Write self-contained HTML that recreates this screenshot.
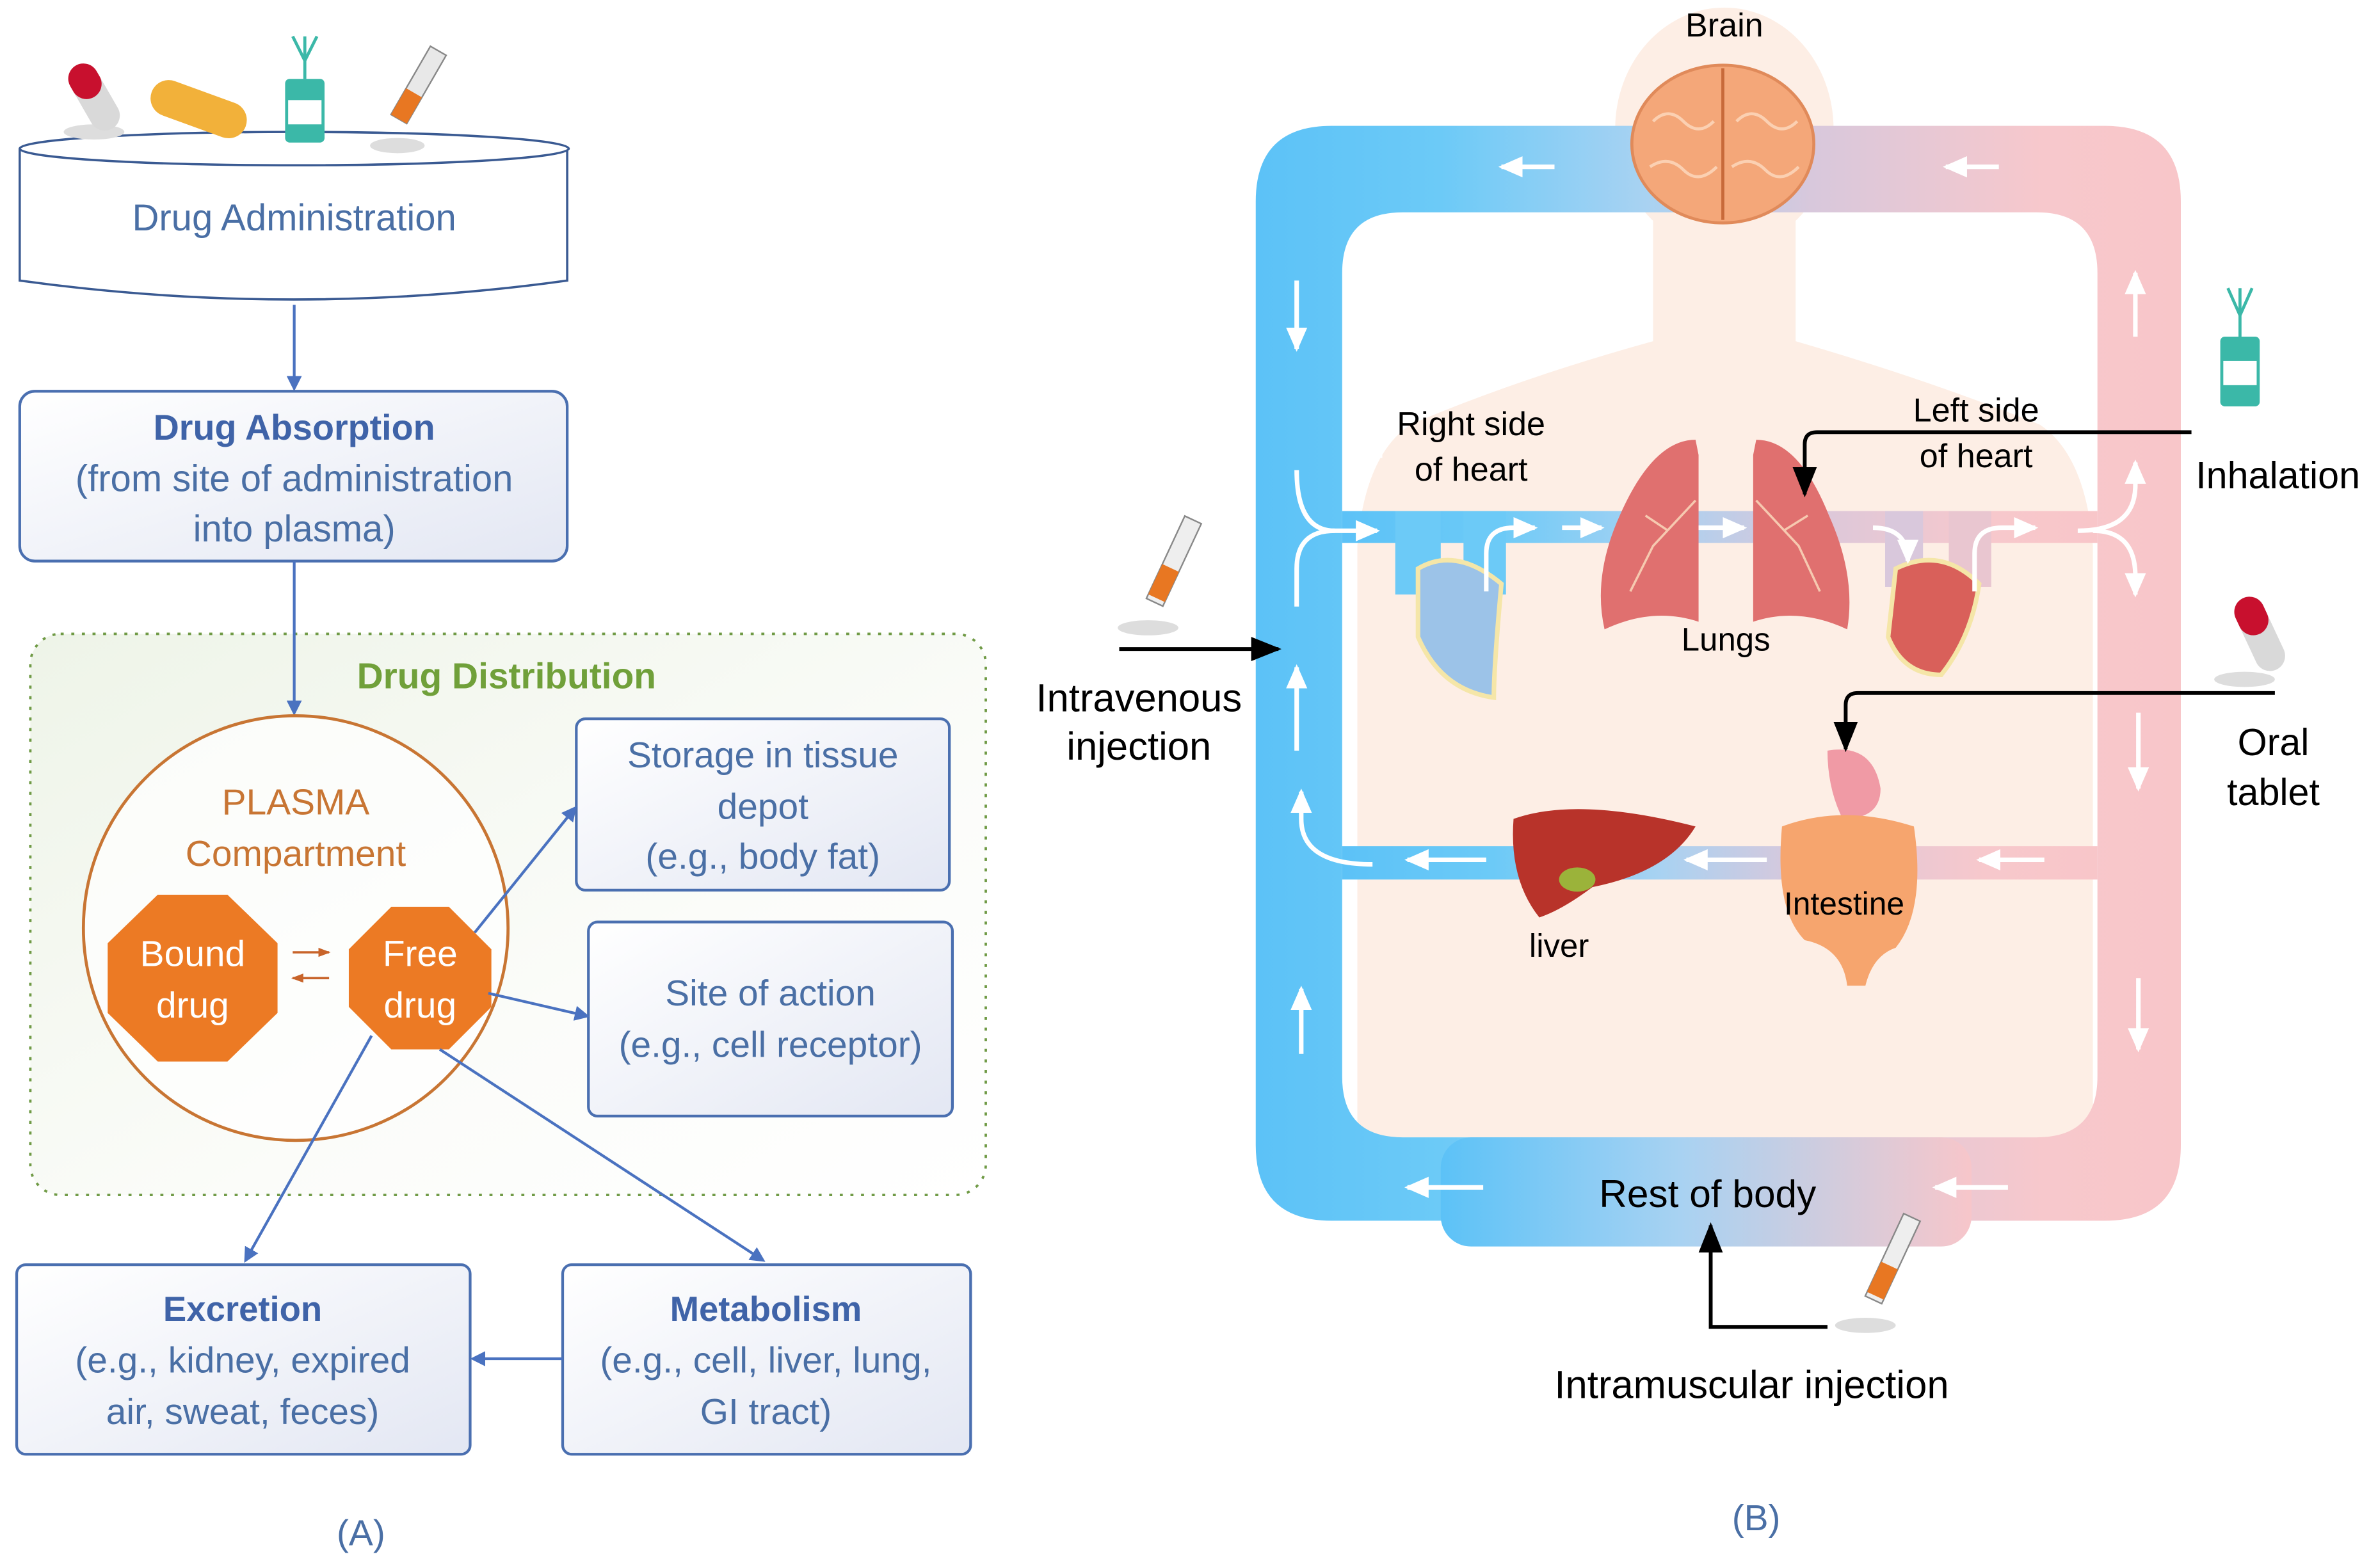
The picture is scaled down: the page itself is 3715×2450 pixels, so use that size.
<!DOCTYPE html>
<html><head><meta charset="utf-8"><style>html,body{margin:0;padding:0;background:#fff}svg{display:block}</style></head>
<body>
<svg width="3715" height="2450" viewBox="0 0 1568 1034" preserveAspectRatio="none" xmlns="http://www.w3.org/2000/svg" font-family="Liberation Sans, sans-serif">
<defs>
<linearGradient id="box" x1="0" y1="0" x2="1" y2="1"><stop offset="0" stop-color="#ffffff"/><stop offset="1" stop-color="#e3e7f3"/></linearGradient>
<linearGradient id="green" x1="0" y1="0" x2="1" y2="1"><stop offset="0" stop-color="#eef4e8"/><stop offset="0.6" stop-color="#fbfcf9"/><stop offset="1" stop-color="#ffffff"/></linearGradient>
<linearGradient id="bp" x1="0" y1="0" x2="1" y2="0"><stop offset="0" stop-color="#5cc2f7"/><stop offset="0.2" stop-color="#6ccaf7"/><stop offset="0.42" stop-color="#a8d2f2"/><stop offset="0.6" stop-color="#d8c8dc"/><stop offset="0.85" stop-color="#f7c8cc"/><stop offset="1" stop-color="#f8c6c9"/></linearGradient>
<linearGradient id="bp2" x1="0" y1="0" x2="1" y2="0"><stop offset="0" stop-color="#5cc2f7"/><stop offset="0.45" stop-color="#a8d2f2"/><stop offset="1" stop-color="#f7c6ca"/></linearGradient>
<marker id="ab" markerWidth="10" markerHeight="10" refX="8" refY="5" orient="auto" markerUnits="userSpaceOnUse"><path d="M0,0 L10,5 L0,10 z" fill="#4a72c0"/></marker>
<marker id="ak" markerWidth="20" markerHeight="16" refX="18" refY="8" orient="auto" markerUnits="userSpaceOnUse"><path d="M0,0 L20,8 L0,16 z" fill="#000"/></marker>
<marker id="ao" markerWidth="8" markerHeight="8" refX="7" refY="4" orient="auto" markerUnits="userSpaceOnUse"><path d="M0,1 L8,4 L0,7 z" fill="#c8642a"/></marker>
<marker id="aw" markerWidth="16" markerHeight="16" refX="14" refY="8" orient="auto" markerUnits="userSpaceOnUse"><path d="M0,1 L16,8 L0,15 z" fill="#fff"/></marker>
</defs>

<!-- LEFT PANEL -->
<g fill="none" stroke="#3a5a92" stroke-width="1.5">
<path d="M13,98 L13,185 Q194,210 374,185 L374,98" fill="#fff"/>
<ellipse cx="194" cy="98" rx="181" ry="11" fill="#fff"/>
</g>
<ellipse cx="62" cy="87" rx="20" ry="5" fill="#ddd"/>
<rect x="52" y="40" width="20" height="48" rx="10" fill="#d9d9d9" transform="rotate(-30 62 64)"/>
<rect x="52" y="40" width="20" height="24" rx="10" fill="#c8102e" transform="rotate(-30 62 64)"/>
<rect x="98" y="60" width="66" height="24" rx="12" fill="#f2b13a" transform="rotate(20 131 72)"/>
<rect x="188" y="52" width="26" height="42" rx="3" fill="#3bb8a8"/><rect x="190" y="66" width="22" height="16" fill="#fff"/>
<path d="M201,52 L201,24 M201,40 L193,24 M201,40 L209,24" stroke="#3bb8a8" stroke-width="2"/>
<ellipse cx="262" cy="96" rx="18" ry="5" fill="#ddd"/>
<rect x="270" y="30" width="12" height="52" fill="#e8e8e8" stroke="#888" transform="rotate(30 276 56)"/>
<rect x="270" y="62" width="12" height="20" fill="#e87722" transform="rotate(30 276 56)"/>
<text x="194" y="152" font-size="24.5" fill="#4a6fa5" text-anchor="middle">Drug Administration</text>
<line x1="194" y1="201" x2="194" y2="256" stroke="#4a72c0" stroke-width="1.8" marker-end="url(#ab)"/>

<rect x="13" y="258" width="361" height="112" rx="10" fill="url(#box)" stroke="#4a6fb0" stroke-width="1.8"/>
<g font-size="24.5" fill="#4a6fa5" text-anchor="middle">
<text x="194" y="290" font-weight="bold" fill="#3f63a8" font-size="23.5">Drug Absorption</text>
<text x="194" y="324">(from site of administration</text>
<text x="194" y="357">into plasma)</text>
</g>

<rect x="20" y="418" width="630" height="370" rx="20" fill="url(#green)" stroke="#6f9a45" stroke-width="1.6" stroke-dasharray="2,5"/>
<text x="334" y="454" font-size="24" font-weight="bold" fill="#70a03a" text-anchor="middle">Drug Distribution</text>
<line x1="194" y1="370" x2="194" y2="470" stroke="#4a72c0" stroke-width="1.8" marker-end="url(#ab)"/>

<circle cx="195" cy="612" r="140" fill="#fff" fill-opacity="0.7" stroke="#c87533" stroke-width="2"/>
<text x="195" y="537" font-size="24" fill="#c87533" text-anchor="middle">PLASMA</text>
<text x="195" y="571" font-size="24" fill="#c87533" text-anchor="middle">Compartment</text>
<polygon points="104,590 150,590 183,622 183,668 150,700 104,700 71,668 71,622" fill="#ec7a24"/>
<polygon points="258,598 296,598 324,626 324,664 296,692 258,692 230,664 230,626" fill="#ec7a24"/>
<g font-size="24" fill="#fff" text-anchor="middle">
<text x="127" y="637">Bound</text><text x="127" y="671">drug</text>
<text x="277" y="637">Free</text><text x="277" y="671">drug</text>
</g>
<line x1="193" y1="628" x2="217" y2="628" stroke="#c8642a" stroke-width="1.5" marker-end="url(#ao)"/>
<line x1="217" y1="645" x2="193" y2="645" stroke="#c8642a" stroke-width="1.5" marker-end="url(#ao)"/>

<rect x="380" y="474" width="246" height="113" rx="6" fill="url(#box)" stroke="#4a6fb0" stroke-width="1.8"/>
<rect x="388" y="608" width="240" height="128" rx="6" fill="url(#box)" stroke="#4a6fb0" stroke-width="1.8"/>
<rect x="11" y="834" width="299" height="125" rx="6" fill="url(#box)" stroke="#4a6fb0" stroke-width="1.8"/>
<rect x="371" y="834" width="269" height="125" rx="6" fill="url(#box)" stroke="#4a6fb0" stroke-width="1.8"/>
<g font-size="24" fill="#4a6fa5" text-anchor="middle">
<text x="503" y="506">Storage in tissue</text><text x="503" y="540">depot</text><text x="503" y="573">(e.g., body fat)</text>
<text x="508" y="663">Site of action</text><text x="508" y="697">(e.g., cell receptor)</text>
<text x="160" y="871" font-weight="bold" fill="#3f63a8" font-size="23">Excretion</text><text x="160" y="905">(e.g., kidney, expired</text><text x="160" y="939">air, sweat, feces)</text>
<text x="505" y="871" font-weight="bold" fill="#3f63a8" font-size="23">Metabolism</text><text x="505" y="905">(e.g., cell, liver, lung,</text><text x="505" y="939">GI tract)</text>
<text x="238" y="1019">(A)</text>
<text x="1158" y="1009">(B)</text>
</g>
<g stroke="#4a72c0" stroke-width="1.8">
<line x1="313" y1="615" x2="379" y2="533" marker-end="url(#ab)"/>
<line x1="322" y1="655" x2="387" y2="670" marker-end="url(#ab)"/>
<line x1="245" y1="683" x2="162" y2="831" marker-end="url(#ab)"/>
<line x1="290" y1="692" x2="503" y2="831" marker-end="url(#ab)"/>
<line x1="371" y1="896" x2="312" y2="896" marker-end="url(#ab)"/>
</g>

<!-- RIGHT PANEL -->
<g fill="#fdeee5">
<ellipse cx="1137" cy="85" rx="72" ry="80"/>
<rect x="1090" y="120" width="94" height="120"/>
<path d="M1090,225 Q1000,250 930,280 Q900,300 895,360 L895,750 L1380,750 L1380,360 Q1375,300 1345,280 Q1270,250 1184,225 Z"/>
</g>
<path fill-rule="evenodd" fill="url(#bp)" d="M878,83 L1388,83 Q1438,83 1438,133 L1438,755 Q1438,805 1388,805 L878,805 Q828,805 828,755 L828,133 Q828,83 878,83 Z M925,140 Q885,140 885,180 L885,710 Q885,750 925,750 L1343,750 Q1383,750 1383,710 L1383,180 Q1383,140 1343,140 Z"/>
<rect x="950" y="750" width="350" height="72" rx="20" fill="url(#bp2)"/>
<rect x="885" y="337" width="498" height="21" fill="url(#bp)"/>
<rect x="885" y="558" width="498" height="22" fill="url(#bp)"/>
<rect x="920" y="337" width="30" height="55" fill="#6ccaf7"/><rect x="965" y="337" width="28" height="55" fill="#6ccaf7"/>
<rect x="1243" y="337" width="25" height="50" fill="#d9c8dc"/><rect x="1285" y="337" width="28" height="50" fill="#e9c6d0"/>
<ellipse cx="1136" cy="95" rx="60" ry="52" fill="#f4a779" stroke="#e08a5a" stroke-width="2"/>
<line x1="1136" y1="45" x2="1136" y2="145" stroke="#c86a3a" stroke-width="2"/>
<g fill="none" stroke="#fbd0b2" stroke-width="2"><path d="M1090,80 q10,-10 20,0 t20,0"/><path d="M1145,80 q10,-10 20,0 t20,0"/><path d="M1088,110 q12,-8 22,2 t22,-2"/><path d="M1142,110 q12,-8 22,2 t22,-2"/></g>
<path d="M1118,290 Q1090,290 1068,340 Q1050,380 1058,415 Q1090,400 1120,410 L1120,300 Z" fill="#e0706f"/>
<path d="M1158,290 Q1186,290 1206,340 Q1224,380 1218,415 Q1186,400 1156,410 L1156,300 Z" fill="#e0706f"/>
<g stroke="#f6c9b0" stroke-width="1.5" fill="none"><path d="M1118,330 L1090,360 L1075,390 M1100,350 L1085,340"/><path d="M1158,330 L1186,360 L1200,390 M1176,350 L1192,340"/></g>
<path d="M935,375 Q960,360 990,385 Q985,440 985,460 Q950,455 935,420 Z" fill="#9cc3e8" stroke="#f5e6a8" stroke-width="3"/>
<path d="M1250,375 Q1280,360 1305,385 Q1300,420 1280,445 Q1255,445 1245,420 Z" fill="#d9605a" stroke="#f5e6a8" stroke-width="3"/>
<path d="M998,540 Q1040,525 1118,545 Q1100,575 1050,585 Q1030,600 1015,605 Q995,580 998,540 Z" fill="#b8332a"/>
<ellipse cx="1040" cy="580" rx="12" ry="8" fill="#9bb33a"/>
<path d="M1205,495 Q1235,490 1240,520 Q1240,540 1215,540 Q1205,520 1205,495 Z" fill="#f09aa5"/>
<path d="M1175,545 Q1215,530 1262,545 Q1270,600 1250,625 Q1235,630 1230,650 L1218,650 Q1215,625 1190,620 Q1170,600 1175,545 Z" fill="#f6a56e"/>
<g stroke="#fff" stroke-width="3" fill="none">
<line x1="1025" y1="110" x2="990" y2="110" marker-end="url(#aw)"/>
<line x1="1318" y1="110" x2="1283" y2="110" marker-end="url(#aw)"/>
<line x1="855" y1="185" x2="855" y2="230" marker-end="url(#aw)"/>
<line x1="855" y1="495" x2="855" y2="440" marker-end="url(#aw)"/>
<line x1="858" y1="695" x2="858" y2="652" marker-end="url(#aw)"/>
<line x1="1408" y1="222" x2="1408" y2="180" marker-end="url(#aw)"/>
<line x1="1410" y1="470" x2="1410" y2="520" marker-end="url(#aw)"/>
<line x1="1410" y1="645" x2="1410" y2="692" marker-end="url(#aw)"/>
<path d="M855,400 L855,375 Q855,350 880,350 L908,350" marker-end="url(#aw)"/>
<path d="M855,310 Q855,350 880,350"/>
<line x1="1030" y1="348" x2="1056" y2="348" marker-end="url(#aw)"/>
<line x1="1120" y1="348" x2="1150" y2="348" marker-end="url(#aw)"/>
<path d="M980,390 L980,365 Q980,348 998,348 L1012,348" marker-end="url(#aw)"/>
<path d="M1302,390 L1302,365 Q1302,348 1320,348 L1342,348" marker-end="url(#aw)"/>
<path d="M1235,348 Q1258,348 1258,370" marker-end="url(#aw)"/>
<path d="M1370,350 Q1408,350 1408,320 L1408,305" marker-end="url(#aw)"/>
<path d="M1380,350 Q1408,350 1408,380 L1408,392" marker-end="url(#aw)"/>
<line x1="980" y1="567" x2="928" y2="567" marker-end="url(#aw)"/>
<line x1="1165" y1="567" x2="1112" y2="567" marker-end="url(#aw)"/>
<line x1="1348" y1="567" x2="1305" y2="567" marker-end="url(#aw)"/>
<path d="M905,570 Q858,570 858,540 L858,522" marker-end="url(#aw)"/>
<line x1="978" y1="783" x2="928" y2="783" marker-end="url(#aw)"/>
<line x1="1324" y1="783" x2="1276" y2="783" marker-end="url(#aw)"/>
</g>
<ellipse cx="757" cy="414" rx="20" ry="5" fill="#ddd"/>
<rect x="768" y="340" width="12" height="60" fill="#eee" stroke="#888" transform="rotate(25 774 370)"/>
<rect x="768" y="375" width="12" height="22" fill="#e87722" transform="rotate(25 774 370)"/>
<ellipse cx="1230" cy="874" rx="20" ry="5" fill="#ddd"/>
<rect x="1242" y="800" width="12" height="60" fill="#eee" stroke="#888" transform="rotate(25 1248 830)"/>
<rect x="1242" y="835" width="12" height="22" fill="#e87722" transform="rotate(25 1248 830)"/>
<ellipse cx="1480" cy="448" rx="20" ry="5" fill="#ddd"/>
<rect x="1480" y="392" width="20" height="52" rx="10" fill="#d9d9d9" transform="rotate(-25 1490 418)"/>
<rect x="1480" y="392" width="20" height="26" rx="10" fill="#c8102e" transform="rotate(-25 1490 418)"/>
<rect x="1464" y="222" width="26" height="46" rx="3" fill="#3bb8a8"/><rect x="1466" y="238" width="22" height="16" fill="#fff"/>
<path d="M1477,222 L1477,190 M1477,208 L1469,190 M1477,208 L1485,190" stroke="#3bb8a8" stroke-width="2"/>
<g stroke="#000" stroke-width="2.5" fill="none">
<line x1="738" y1="428" x2="843" y2="428" marker-end="url(#ak)"/>
<path d="M1445,285 L1198,285 Q1190,285 1190,293 L1190,326" marker-end="url(#ak)"/>
<path d="M1500,457 L1225,457 Q1217,457 1217,465 L1217,494" marker-end="url(#ak)"/>
<path d="M1205,875 L1128,875 L1128,808" marker-end="url(#ak)"/>
</g>
<g fill="#000" text-anchor="middle">
<text x="1137" y="24" font-size="22">Brain</text>
<text x="970" y="287" font-size="22">Right side</text><text x="970" y="317" font-size="22">of heart</text>
<text x="1303" y="278" font-size="22">Left side</text><text x="1303" y="308" font-size="22">of heart</text>
<text x="1138" y="429" font-size="21.5">Lungs</text>
<text x="1216" y="603" font-size="21">Intestine</text>
<text x="1028" y="631" font-size="21.5">liver</text>
<text x="1126" y="796" font-size="25.5">Rest of body</text>
<text x="1502" y="322" font-size="25">Inhalation</text>
<text x="1499" y="498" font-size="25">Oral</text><text x="1499" y="531" font-size="25">tablet</text>
<text x="751" y="469" font-size="26">Intravenous</text><text x="751" y="501" font-size="26">injection</text>
<text x="1155" y="922" font-size="26">Intramuscular injection</text>
</g>
</svg>
</body></html>
